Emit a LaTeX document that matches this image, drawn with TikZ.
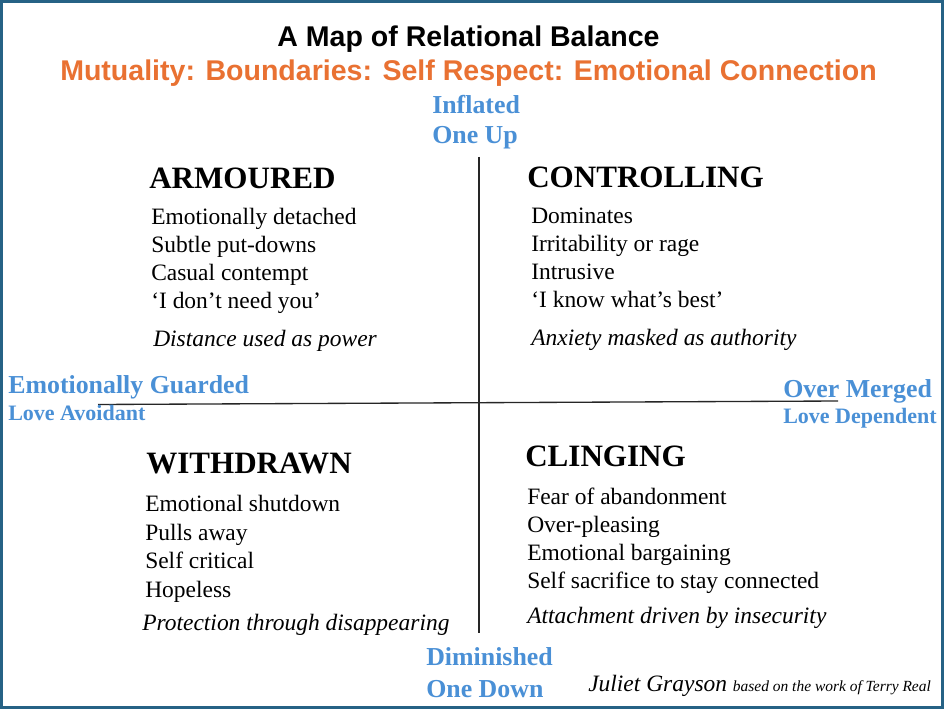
\documentclass[tikz,border=0pt]{standalone}
\usepackage{fontspec}
\setmainfont{Liberation Serif}
\newfontfamily\titlefont{Liberation Sans}
\definecolor{axisblue}{RGB}{74,144,214}
\definecolor{suborange}{RGB}{233,113,50}
\definecolor{framecol}{RGB}{38,98,133}
\tikzset{
  txt/.style={anchor=base west, inner sep=0pt, font=\fontsize{17.6pt}{20pt}\selectfont},
  noteitem/.style={anchor=base west, inner sep=0pt, font=\fontsize{17.6pt}{20pt}\selectfont\itshape},
  head/.style={anchor=base west, inner sep=0pt, font=\fontsize{23.3pt}{26pt}\selectfont\bfseries},
  axisbig/.style={anchor=base west, inner sep=0pt, text=axisblue, font=\fontsize{19.4pt}{22pt}\selectfont\bfseries},
  axissmall/.style={anchor=base west, inner sep=0pt, text=axisblue, font=\fontsize{16.5pt}{19pt}\selectfont\bfseries},
  titletxt/.style={anchor=base, inner sep=0pt, font=\titlefont\bfseries\fontsize{21.4pt}{24pt}\selectfont},
  axisline/.style={draw=black!85, line width=1pt},
}
\begin{document}
\begin{tikzpicture}[x=0.75pt,y=-0.75pt]
\useasboundingbox (0,0) rectangle (944,709);
\fill[white] (0,0) rectangle (944,709);
\draw[framecol, line width=2.6pt] (1.75,1.75) rectangle (942.25,707.25);

% title
\node[titletxt] (title) at (468.5,47) {A Map of Relational Balance};
\node[titletxt, text=suborange] (subtitle) at (468.5,81) {Mutuality: Boundaries: Self Respect: Emotional Connection};

% axes
\coordinate (vtop) at (479,157);
\coordinate (vbot) at (479,633);
\coordinate (hleft) at (98,404.5);
\coordinate (hright) at (838,401);
\draw[axisline] (vtop) -- (vbot);
\draw[axisline] (hleft) -- (hright);

% axis labels
\node[axisbig] (inflated) at (432,114) {Inflated};
\node[axisbig] (oneup) at (432,144) {One Up};
\node[axisbig] (guarded) at (8,393) {Emotionally Guarded};
\node[axissmall] (avoidant) at (8,420) {Love Avoidant};
\node[axisbig] (merged) at (783,397) {Over Merged};
\node[axissmall] (dependent) at (783,423) {Love Dependent};
\node[axisbig] (diminished) at (426,665) {Diminished};
\node[axisbig] (onedown) at (426,697) {One Down};

% ARMOURED
\node[head] (armoured) at (149,189) {ARMOURED};
\node[txt] (a1) at (151,224) {Emotionally detached};
\node[txt] (a2) at (151,252) {Subtle put-downs};
\node[txt] (a3) at (151,280) {Casual contempt};
\node[txt] (a4) at (151,308) {‘I don’t need you’};
\node[noteitem] (a5) at (153,346) {Distance used as power};

% CONTROLLING
\node[head] (controlling) at (527,188) {CONTROLLING};
\node[txt] (c1) at (531,223) {Dominates};
\node[txt] (c2) at (531,251) {Irritability or rage};
\node[txt] (c3) at (531,279) {Intrusive};
\node[txt] (c4) at (531,307) {‘I know what’s best’};
\node[noteitem] (c5) at (531,345) {Anxiety masked as authority};

% WITHDRAWN
\node[head] (withdrawn) at (146,473) {WITHDRAWN};
\node[txt] (w1) at (145,511) {Emotional shutdown};
\node[txt] (w2) at (145,540) {Pulls away};
\node[txt] (w3) at (145,568) {Self critical};
\node[txt] (w4) at (145,597) {Hopeless};
\node[noteitem] (w5) at (142,630) {Protection through disappearing};

% CLINGING
\node[head] (clinging) at (525,466) {CLINGING};
\node[txt] (g1) at (527,504) {Fear of abandonment};
\node[txt] (g2) at (527,532) {Over-pleasing};
\node[txt] (g3) at (527,560) {Emotional bargaining};
\node[txt] (g4) at (527,588) {Self sacrifice to stay connected};
\node[noteitem] (g5) at (527,623) {Attachment driven by insecurity};

% credit
\node[noteitem] (credit) at (588,691) {Juliet Grayson \fontsize{11.6pt}{13pt}\selectfont based on the work of Terry Real};
\end{tikzpicture}
\end{document}
